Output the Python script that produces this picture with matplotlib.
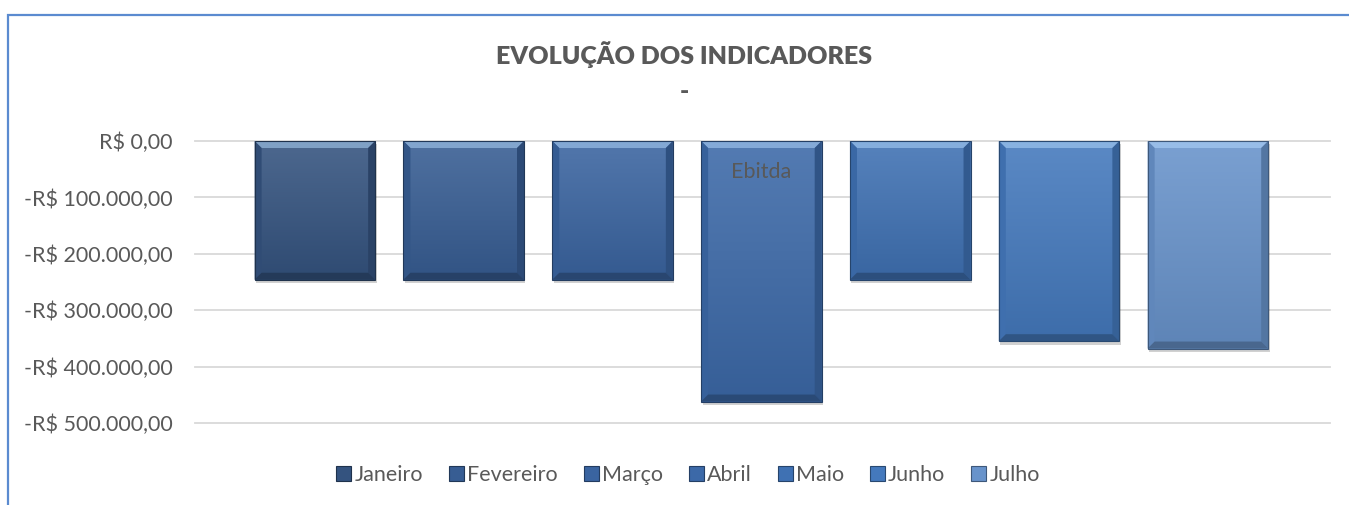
import numpy as np
import matplotlib.pyplot as plt
from matplotlib import patheffects
from matplotlib.patches import Rectangle, Polygon
from matplotlib.colors import to_rgb
from matplotlib.ticker import FuncFormatter

plt.rcParams['font.family'] = ['Lato', 'DejaVu Sans']

# dados do grafico
meses = ['Janeiro', 'Fevereiro', 'Março', 'Abril', 'Maio', 'Junho', 'Julho']
ebitda = [-246000, -246000, -246000, -462000, -246000, -355000, -368000]
cores = ['#34537f', '#375d93', '#3a64a0', '#3c69a8', '#3f71b3', '#4479bd', '#6893cb']
y_ticks = [0, -100000, -200000, -300000, -400000, -500000]
titulo = 'EVOLUÇÃO DOS INDICADORES'
categoria = 'Ebitda'

cinza = '#595959'


def brl(v, pos=None):
    s = f'{abs(v):,.2f}'.replace(',', 'X').replace('.', ',').replace('X', '.')
    return ('-' if v < 0 else '') + 'R$ ' + s


def mix(c, alvo, t):
    c = np.array(to_rgb(c))
    alvo = np.array(to_rgb(alvo))
    return tuple(c + (alvo - c) * t)


fig = plt.figure(figsize=(13.49, 5.05), dpi=100)
ax = fig.add_axes([0.1446, 0.1624, 0.8413, 0.5584])

x = np.arange(len(meses))
largura = 0.81
ax.set_xlim(-0.805, len(meses) - 1 + 0.82)
ax.set_ylim(y_ticks[-1], y_ticks[0])

# tamanho de um pixel em unidades de dados
px_x = (ax.get_xlim()[1] - ax.get_xlim()[0]) / (0.8413 * 1349)
px_y = (ax.get_ylim()[1] - ax.get_ylim()[0]) / (0.5584 * 505)

barras = ax.bar(x, ebitda, width=largura, color=cores, zorder=3, edgecolor='none')

for b, cor in zip(barras, cores):
    b.set_path_effects([patheffects.SimplePatchShadow(offset=(1, -2.5), shadow_rgbFace='#000000', alpha=0.18),
                        patheffects.Normal()])
    x0, y0 = b.get_x(), b.get_y()
    w, h = b.get_width(), b.get_height()
    topo, base = y0, y0 + h  # barras negativas: y0=0, base abaixo
    # gradiente vertical
    grad = np.linspace(0, 1, 100).reshape(-1, 1)
    c_top = np.array(mix(cor, '#ffffff', 0.12))
    c_bot = np.array(mix(cor, '#000000', 0.10))
    img = c_top[None, None, :] * (1 - grad[:, :, None]) + c_bot[None, None, :] * grad[:, :, None]
    im = ax.imshow(img, extent=(x0, x0 + w, base, topo), aspect='auto', zorder=3.5,
                   interpolation='bilinear')
    im.set_clip_path(b)
    # bisel: faixa clara no topo, laterais e base escuras
    bx, by = 7 * px_x, 7 * px_y
    ax.add_patch(Polygon([(x0, topo), (x0 + w, topo), (x0 + w - bx, topo - by), (x0 + bx, topo - by)],
                         closed=True, fc=mix(cor, '#bfe0ff', 0.55), ec='none', zorder=4))
    ax.add_patch(Polygon([(x0, topo), (x0 + bx, topo - by), (x0 + bx, base + by), (x0, base)],
                         closed=True, fc=mix(cor, '#000000', 0.08), ec='none', zorder=4))
    ax.add_patch(Polygon([(x0 + w, topo), (x0 + w - bx, topo - by), (x0 + w - bx, base + by), (x0 + w, base)],
                         closed=True, fc=mix(cor, '#000000', 0.2), ec='none', zorder=4))
    ax.add_patch(Polygon([(x0, base), (x0 + bx, base + by), (x0 + w - bx, base + by), (x0 + w, base)],
                         closed=True, fc=mix(cor, '#000000', 0.3), ec='none', zorder=4))
    ax.add_patch(Rectangle((x0, base), w, topo - base, fill=False, ec=mix(cor, '#000000', 0.4),
                           lw=0.8, zorder=4.5))

ax.set_yticks(y_ticks)
ax.yaxis.set_major_formatter(FuncFormatter(brl))
ax.tick_params(axis='y', length=0, pad=16, labelsize=15.5, labelcolor=cinza)
ax.set_xticks([])
ax.grid(axis='y', color='#d9d9d9', lw=1.3, zorder=0)
for ln in ax.get_ygridlines():
    ln.set_clip_on(False)
for s in ax.spines.values():
    s.set_visible(False)

ax.text(x[len(x) // 2], -55000, categoria, ha='center', va='center', fontsize=15.5,
        color=cinza, zorder=6)

fig.text(684 / 1349, 1 - 55 / 505, titulo, ha='center', va='center', fontsize=18,
         fontweight='heavy', color=cinza)
fig.text(684 / 1349, 1 - 92 / 505, '-', ha='center', va='center', fontsize=18,
         fontweight='heavy', color=cinza)

handles = [Rectangle((0, 0), 1, 1, fc=c, ec=mix(c, '#000000', 0.4), lw=0.8) for c in cores]
fig.legend(handles, meses, loc='center', bbox_to_anchor=(688 / 1349, 1 - 475 / 505), ncol=7,
           frameon=False, fontsize=15.5, labelcolor=cinza, handlelength=0.7, handleheight=0.7,
           handletextpad=0.15, columnspacing=1.2)

# moldura do grafico
fig.add_artist(Rectangle((8 / 1349, -0.2), 1.5, 1 - 15 / 505 + 0.2, transform=fig.transFigure,
                         fill=False, ec='#5b8bd0', lw=1.6, clip_on=False))

fig.savefig('out.png', dpi=100)
